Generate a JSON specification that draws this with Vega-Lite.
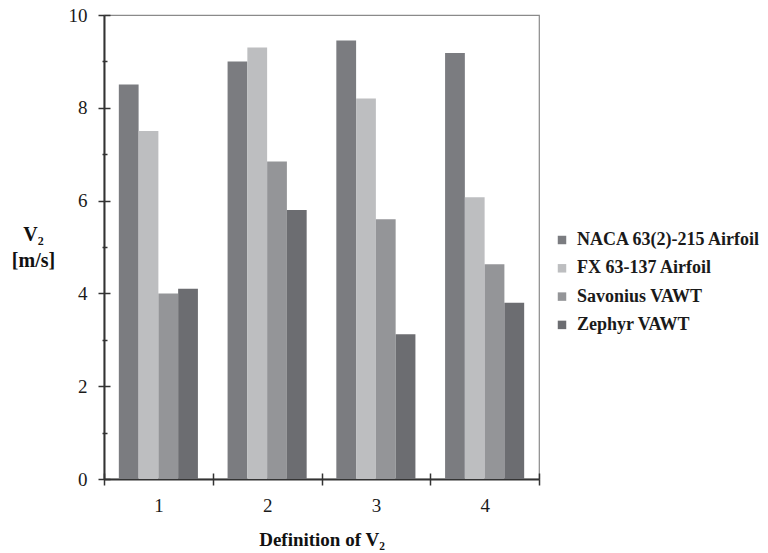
{
  "$schema": "https://vega.github.io/schema/vega-lite/v6.json",
  "width": 435,
  "height": 464,
  "autosize": "none",
  "padding": {"left": 104, "top": 15, "right": 229, "bottom": 74},
  "background": "white",
  "config": {
    "view": {"stroke": "#8a8a8a", "strokeWidth": 1.2},
    "font": "Times New Roman, Liberation Serif, serif"
  },
  "data": {
    "values": [
      {"def": "1", "turbine": "NACA 63(2)-215 Airfoil", "v2": 8.5},
      {"def": "1", "turbine": "FX 63-137 Airfoil", "v2": 7.5},
      {"def": "1", "turbine": "Savonius VAWT", "v2": 4.0},
      {"def": "1", "turbine": "Zephyr VAWT", "v2": 4.1},
      {"def": "2", "turbine": "NACA 63(2)-215 Airfoil", "v2": 9.0},
      {"def": "2", "turbine": "FX 63-137 Airfoil", "v2": 9.3},
      {"def": "2", "turbine": "Savonius VAWT", "v2": 6.84},
      {"def": "2", "turbine": "Zephyr VAWT", "v2": 5.8},
      {"def": "3", "turbine": "NACA 63(2)-215 Airfoil", "v2": 9.45},
      {"def": "3", "turbine": "FX 63-137 Airfoil", "v2": 8.2},
      {"def": "3", "turbine": "Savonius VAWT", "v2": 5.6},
      {"def": "3", "turbine": "Zephyr VAWT", "v2": 3.12},
      {"def": "4", "turbine": "NACA 63(2)-215 Airfoil", "v2": 9.18},
      {"def": "4", "turbine": "FX 63-137 Airfoil", "v2": 6.07},
      {"def": "4", "turbine": "Savonius VAWT", "v2": 4.63},
      {"def": "4", "turbine": "Zephyr VAWT", "v2": 3.8}
    ]
  },
  "resolve": {"axis": {"x": "independent", "y": "independent"}},
  "layer": [
    {
      "mark": {"type": "bar"},
      "encoding": {
        "x": {
          "field": "def", "type": "nominal",
          "scale": {"paddingInner": 0, "paddingOuter": 0},
          "axis": {
            "title": "Definition of V₂",
            "labelAngle": 0,
            "labelFont": "Times New Roman, Liberation Serif, serif", "labelFontSize": 19, "labelColor": "#1a1a1a",
            "labelPadding": 11,
            "tickBand": "extent",
            "tickSize": 6, "tickColor": "#333", "tickWidth": 1.5,
            "domainColor": "#333", "domainWidth": 2,
            "titleFont": "Times New Roman, Liberation Serif, serif", "titleFontSize": 19, "titleFontWeight": "bold", "titleColor": "#111",
            "titleBaseline": "alphabetic", "titleY": 66
          }
        },
        "xOffset": {
          "field": "turbine", "type": "nominal",
          "sort": ["NACA 63(2)-215 Airfoil", "FX 63-137 Airfoil", "Savonius VAWT", "Zephyr VAWT"],
          "scale": {"paddingInner": 0, "paddingOuter": 0.75}
        },
        "y": {
          "field": "v2", "type": "quantitative",
          "scale": {"domain": [0, 10], "nice": false},
          "axis": {
            "values": [0, 1, 2, 3, 4, 5, 6, 7, 8, 9, 10],
            "labelExpr": "datum.value % 2 == 0 ? datum.label : ''",
            "grid": false,
            "labelFont": "Times New Roman, Liberation Serif, serif", "labelFontSize": 19, "labelColor": "#1a1a1a",
            "labelPadding": 11,
            "tickSize": {"condition": {"test": "datum.value % 2 == 0", "value": 6}, "value": 2},
            "tickColor": "#333", "tickWidth": 1.5,
            "domainColor": "#333", "domainWidth": 2,
            "title": ["V₂", "[m/s]"],
            "titleAngle": 0,
            "titleFont": "Times New Roman, Liberation Serif, serif", "titleFontSize": 20, "titleFontWeight": "bold", "titleColor": "#111",
            "titleAlign": "center", "titleBaseline": "middle",
            "titleLineHeight": 26,
            "titleX": -71, "titleY": 219
          }
        },
        "color": {
          "field": "turbine", "type": "nominal",
          "scale": {
            "domain": ["NACA 63(2)-215 Airfoil", "FX 63-137 Airfoil", "Savonius VAWT", "Zephyr VAWT"],
            "range": ["#7b7c80", "#bdbec0", "#949598", "#6c6d71"]
          },
          "legend": {
            "title": null,
            "orient": "none",
            "legendX": 449,
            "legendY": 216,
            "padding": 0,
            "symbolType": "square",
            "symbolSize": 72,
            "symbolStrokeWidth": 0,
            "labelFont": "Times New Roman, Liberation Serif, serif", "labelFontSize": 18, "labelFontWeight": "bold", "labelColor": "#1a1a1a",
            "labelOffset": 6,
            "rowPadding": 10.3,
            "labelLimit": 300
          }
        }
      }
    },
    {
      "mark": {"type": "point", "opacity": 0},
      "encoding": {
        "x": {
          "field": "def", "type": "nominal",
          "axis": {
            "orient": "bottom",
            "labels": false, "domain": false, "title": null,
            "tickBand": "extent",
            "tickSize": -6, "tickColor": "#333", "tickWidth": 1.5
          }
        },
        "y": {
          "field": "v2", "type": "quantitative",
          "axis": {
            "orient": "left",
            "values": [0, 1, 2, 3, 4, 5, 6, 7, 8, 9, 10],
            "labels": false, "domain": false, "title": null, "grid": false,
            "tickSize": {"condition": {"test": "datum.value % 2 == 0", "value": -6}, "value": -3},
            "tickColor": "#333", "tickWidth": 1.5
          }
        }
      }
    }
  ]
}
